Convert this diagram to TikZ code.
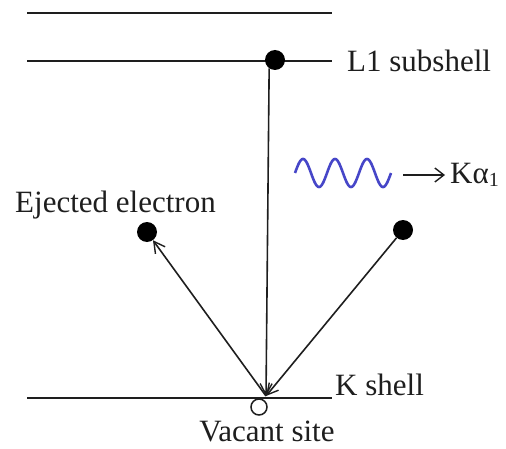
\documentclass[tikz,border=0pt]{standalone}
\usepackage{fontspec}
\setmainfont{Liberation Serif}
\usetikzlibrary{arrows.meta}
\definecolor{inkline}{RGB}{30,30,30}
\definecolor{waveblue}{RGB}{70,70,200}
\begin{document}
\begin{tikzpicture}[x=1pt,y=1pt,
  shell/.style={draw=inkline,line width=2pt},
  dot/.style={circle,fill=black,inner sep=0pt,minimum size=20pt},
  hole/.style={circle,draw=inkline,fill=white,line width=1.5pt,inner sep=0pt,minimum size=16pt},
  arr/.style={draw=inkline,line width=1.6pt,-{Straight Barb[length=11pt,width=12pt,line width=1.4pt]}},
  lbl/.style={font=\fontsize{31}{34}\selectfont,inner sep=0pt,text=inkline}]
\useasboundingbox (0,0) rectangle (506,448);
% shells
\coordinate (t1) at (27,435); \coordinate (t2) at (332,435);
\coordinate (m1) at (27,387); \coordinate (m2) at (332,387);
\coordinate (k1) at (27,50);  \coordinate (k2) at (332,50);
\draw[shell] (t1) -- (t2);
\draw[shell] (m1) -- (m2);
\draw[shell] (k1) -- (k2);
% labels
\node[lbl,anchor=base west] (l1lab) at (347,376) {L1 subshell};
\node[lbl,anchor=base west] (klab) at (335,53) {K shell};
\node[lbl,anchor=base] (vlab) at (267,7) {Vacant site};
\node[lbl,anchor=base west] (elab) at (15,236) {Ejected electron};
\node[lbl,anchor=base west] (kalab) at (450,265) {Kα\raisebox{-0.25ex}{\fontsize{20}{20}\selectfont 1}};
% electrons
\node[dot] (l1e) at (275,388) {};
\node[dot] (rde) at (403,218) {};
\node[dot] (lde) at (147,216) {};
\node[hole] (vac) at (259,41) {};
\coordinate (hit) at (266,52);
% transitions
\draw[arr] (l1e.235) -- (hit);
\draw[arr] (rde) -- (hit);
\draw[arr] (hit) -- (lde);
% photon
\draw[waveblue,line width=2.6pt] plot[domain=0:96,samples=150,smooth] ({295+\x},{275+14*sin(\x*11.25)});
\coordinate (pa) at (403,273);
\draw[draw=inkline,line width=1.6pt,shorten >=5pt,-{Straight Barb[length=9pt,width=14pt,line width=1.4pt]}] (pa) -- (kalab.west |- pa) ;
\end{tikzpicture}
\end{document}
